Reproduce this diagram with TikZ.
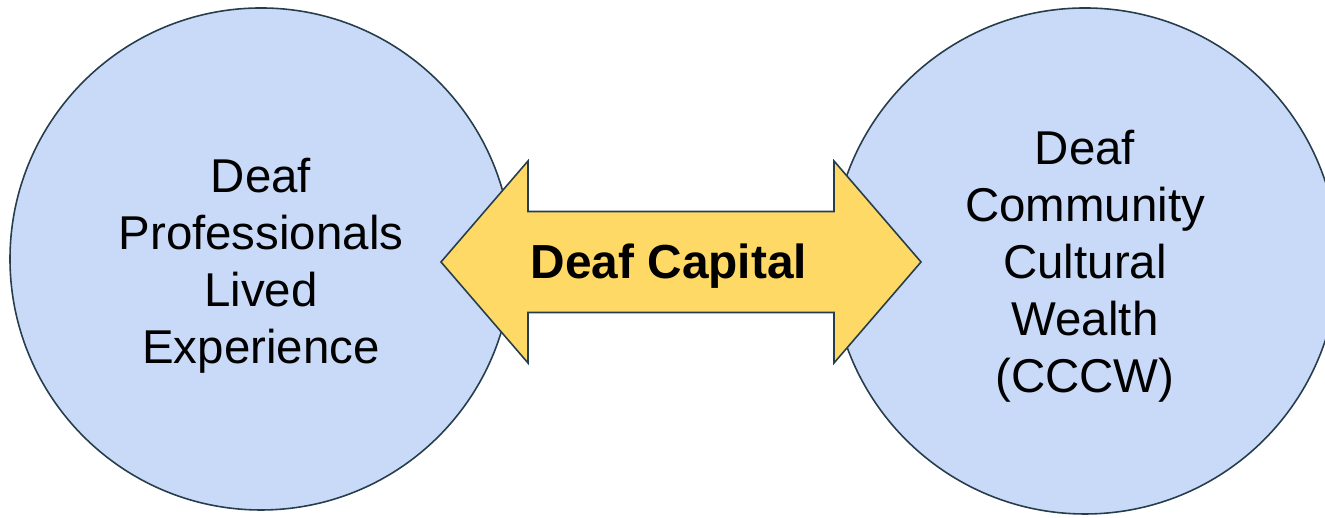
\documentclass[tikz,border=0pt]{standalone}
\usepackage{fontspec}
\setmainfont{Liberation Sans}
\definecolor{circlefill}{HTML}{C9DAF8}
\definecolor{arrowfill}{HTML}{FFD966}
\definecolor{edgecol}{HTML}{263D4C}
\begin{document}
\begin{tikzpicture}[
    bubble/.style={circle, draw=edgecol, fill=circlefill, line width=0.45pt, inner sep=0pt},
    bubbletext/.style={align=center, font=\fontsize{13.5}{16.2}\selectfont},
    arrowbox/.style={draw=edgecol, fill=arrowfill, line width=0.45pt, line join=miter}
  ]
    \useasboundingbox (0,0) rectangle (13.25,5.18);
    \clip (0,0) rectangle (13.25,5.18);

    \node[bubble, minimum size=5.02cm] (lived) at (2.61,2.59) {};
    \node[bubble, minimum size=5.06cm] (cccw) at (10.85,2.57) {};
    \node[bubbletext] (livedtext) at ([yshift=-0.07cm]lived.center)
      {Deaf\\Professionals\\Lived\\Experience};
    \node[bubbletext] (cccwtext) at ([yshift=-0.05cm]cccw.center)
      {Deaf\\Community\\Cultural\\Wealth\\(CCCW)};

    \coordinate (mid) at (6.81,2.56);
    \draw[arrowbox] ([shift={(-2.40,0)}]mid) -- ([shift={(-1.53,1.01)}]mid)
      -- ([shift={(-1.53,0.505)}]mid) -- ([shift={(1.53,0.505)}]mid)
      -- ([shift={(1.53,1.01)}]mid) -- ([shift={(2.40,0)}]mid)
      -- ([shift={(1.53,-1.01)}]mid) -- ([shift={(1.53,-0.505)}]mid)
      -- ([shift={(-1.53,-0.505)}]mid) -- ([shift={(-1.53,-1.01)}]mid) -- cycle;
    \node[font=\fontsize{13.6}{16.2}\selectfont\bfseries] (capital) at (6.69,2.52) {Deaf Capital};
\end{tikzpicture}
\end{document}
